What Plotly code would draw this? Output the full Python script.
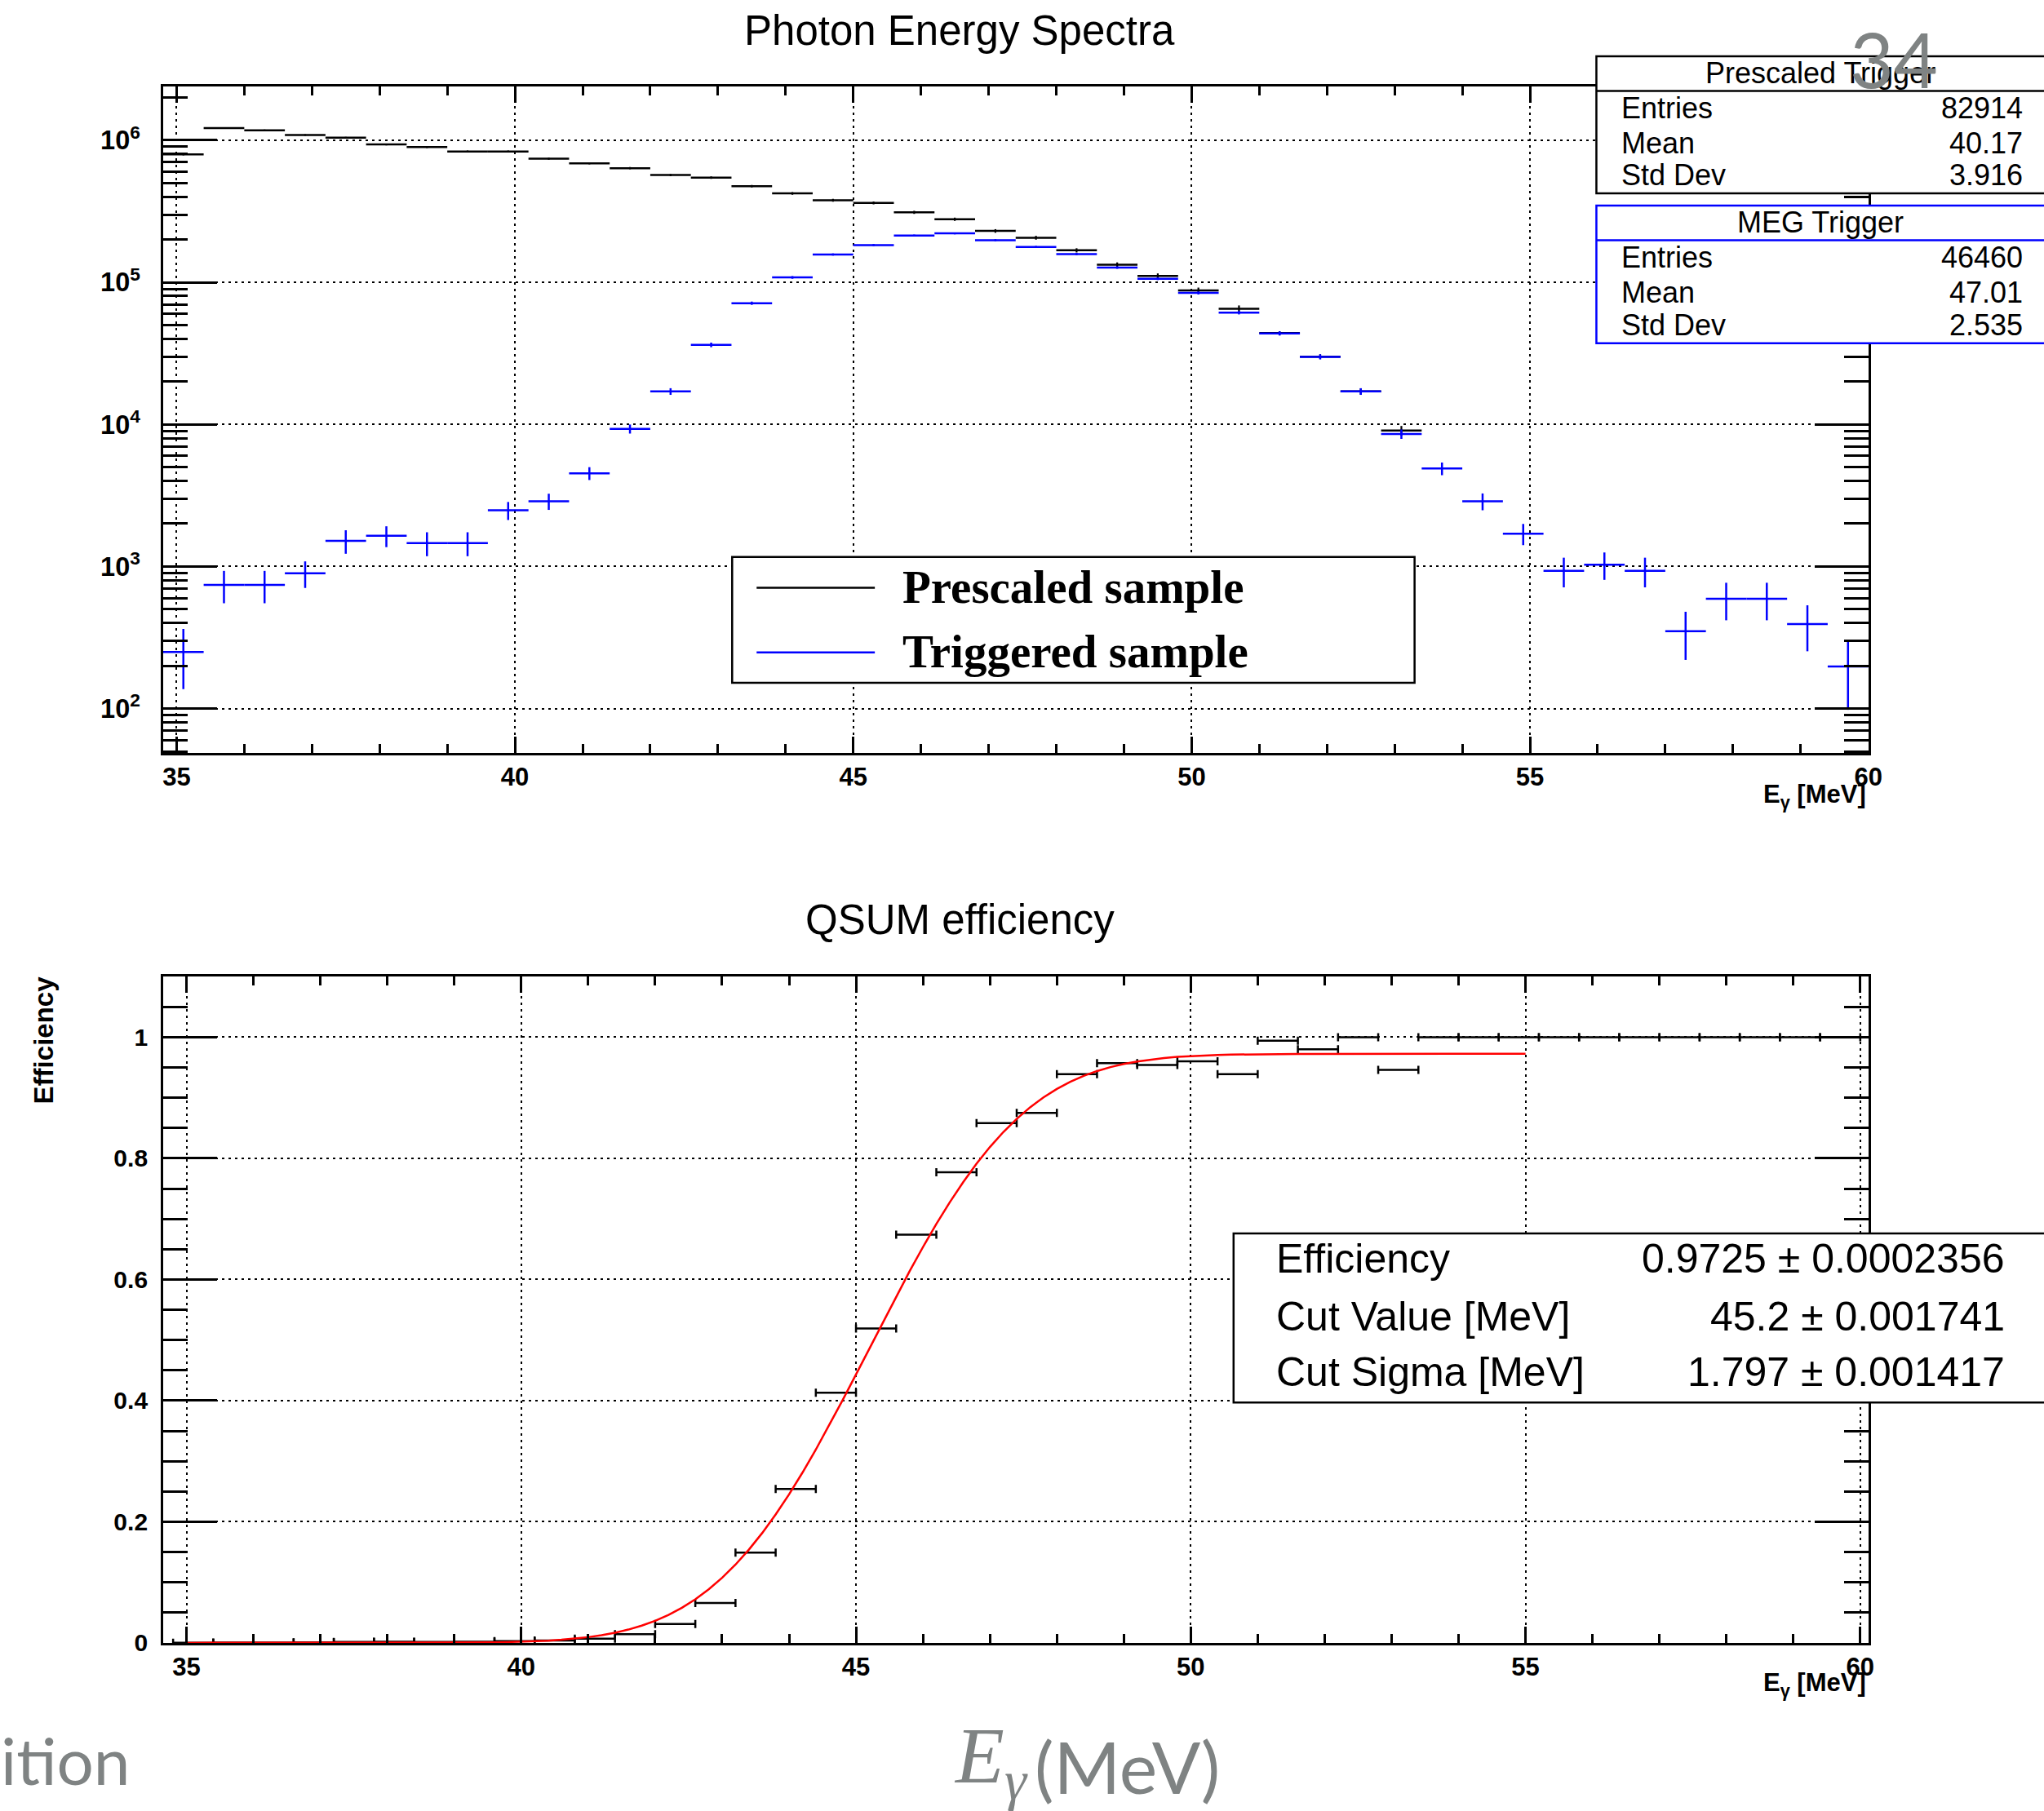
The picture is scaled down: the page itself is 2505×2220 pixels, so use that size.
import math
import plotly.graph_objects as go

# layout coordinates below are given on a 2505 x 2220 canvas
W, H = 2505, 2220
FIG_W, FIG_H = 2521, 2236

# ---- Photon energy spectra: 42 bins of 0.6 MeV between 34.8 and 60 MeV ----
energy = [35.1, 35.7, 36.3, 36.9, 37.5, 38.1, 38.7, 39.3, 39.9, 40.5,
          41.1, 41.7, 42.3, 42.9, 43.5, 44.1, 44.7, 45.3, 45.9, 46.5,
          47.1, 47.7, 48.3, 48.9, 49.5, 50.1, 50.7, 51.3, 51.9, 52.5,
          53.1, 53.7, 54.3, 54.9, 55.5, 56.1, 56.7, 57.3, 57.9, 58.5,
          59.1, 59.7]
bin_width = 0.6

prescaled = [7.96e5, 1.217e6, 1.175e6, 1.088e6, 1.044e6, 9.34e5, 8.95e5, 8.34e5, 8.34e5, 7.42e5,
             6.87e5, 6.36e5, 5.69e5, 5.46e5, 4.75e5, 4.23e5, 3.78e5, 3.62e5, 3.11e5, 2.78e5,
             2.30e5, 2.06e5, 1.68e5, 1.33e5, 1.109e5, 8.77e4, 6.52e4, 4.39e4, 3.0e4, 1.706e4,
             9.05e3, None, None, None, None, None, None, None, None, None,
             None, None]
prescaled_err = [12460, 15400, 15140, 14570, 14270, 13500, 13210, 12750, 12750, 12030,
                 11570, 11140, 10530, 10320, 9620, 9080, 8590, 8400, 7790, 7360,
                 6700, 6340, 5720, 5090, 4650, 4140, 3570, 1400, 1150, 880,
                 700, None, None, None, None, None, None, None, None, None,
                 None, None]

triggered = [250, 741, 741, 896, 1514, 1643, 1461, 1461, 2484, 2877,
             4530, 9300, 17060, 36300, 71300, 108300, 157000, 183000, 213500, 221000,
             198000, 177500, 158000, 127000, 106000, 84200, 61200, 43700, 29900, 17060,
             8560, 4890, 2877, 1703, 933, 1030, 933, 350, 593, 593,
             393, 198]
triggered_err = [113, 190, 190, 190, 285, 275, 280, 280, 360, 375,
                 470, 680, 920, 1340, 1880, 2320, 2790, 3010, 3250, 3310,
                 3130, 2960, 2800, 2510, 2290, 2040, 1740, 1470, 1220, 920,
                 650, 500, 390, 290, 220, 225, 220, 130, 175, 175,
                 140, 100]

# ---- QSUM efficiency per bin ----
efficiency = [0.0003, 0.0006, 0.0006, 0.0008, 0.0015, 0.0018, 0.0016, 0.0018, 0.0030, 0.0039,
              0.0070, 0.0145, 0.031, 0.066, 0.149, 0.254, 0.413, 0.519, 0.674, 0.777,
              0.858, 0.875, 0.939, 0.957, 0.954, 0.960, 0.939, 0.994, 0.980, 1.0,
              0.946, 1.0, 1.0, 1.0, 1.0, 1.0, 1.0, 1.0, 1.0, 1.0,
              1.0, 1.0]

# error-function fit results
fit_plateau, fit_plateau_err = 0.9725, 0.0002356
fit_cut, fit_cut_err = 45.2, 0.001741
fit_sigma, fit_sigma_err = 1.797, 0.001417
fit_range = (35.0, 55.0)
fit_npx = 100

stats_prescaled = {"Entries": "82914", "Mean": "40.17", "Std Dev": "3.916"}
stats_meg = {"Entries": "46460", "Mean": "47.01", "Std Dev": "2.535"}


def px(x):
    return x / W


def py(y):
    return 1 - y / H


fit_x = [fit_range[0] + (fit_range[1] - fit_range[0]) * i / fit_npx for i in range(fit_npx + 1)]
fit_y = [fit_plateau * 0.5 * (1 + math.erf((e - fit_cut) / (math.sqrt(2) * fit_sigma))) for e in fit_x]

fig = go.Figure()

fig.add_trace(go.Scatter(
    x=energy, y=prescaled, mode="markers", xaxis="x", yaxis="y",
    marker=dict(size=1, color="black"),
    error_x=dict(type="constant", value=bin_width / 2, width=0, thickness=2.5, color="black"),
    error_y=dict(type="data", array=prescaled_err, width=0, thickness=2.2, color="black"),
    showlegend=False, hoverinfo="skip"))

fig.add_trace(go.Scatter(
    x=energy, y=triggered, mode="markers", xaxis="x", yaxis="y",
    marker=dict(size=1, color="#0000ff"),
    error_x=dict(type="constant", value=bin_width / 2, width=0, thickness=2.5, color="#0000ff"),
    error_y=dict(type="data", array=triggered_err, width=0, thickness=2.5, color="#0000ff"),
    showlegend=False, hoverinfo="skip"))

fig.add_trace(go.Scatter(
    x=energy, y=efficiency, mode="markers", xaxis="x2", yaxis="y2",
    marker=dict(size=1, color="black"),
    error_x=dict(type="constant", value=bin_width / 2, width=5, thickness=2.5, color="black"),
    showlegend=False, hoverinfo="skip"))

fig.add_trace(go.Scatter(
    x=fit_x, y=fit_y, mode="lines", xaxis="x2", yaxis="y2",
    line=dict(color="#ff0000", width=2.5),
    showlegend=False, hoverinfo="skip"))

label_font_x = dict(family="Liberation Sans, Arial, sans-serif", size=31, color="black", weight="bold")
grid_dash = "3px,5px"

common_axis = dict(
    showline=True, linecolor="black", linewidth=2.5, mirror="allticks",
    ticks="inside", tickcolor="black", tickwidth=2.5,
    showgrid=True, gridcolor="black", gridwidth=2.2, griddash=grid_dash,
    zeroline=False,
)

x_dom = [px(199), px(2290.5)]

fig.update_layout(
    width=FIG_W, height=FIG_H, autosize=False,
    margin=dict(l=0, r=0, t=0, b=0),
    paper_bgcolor="white", plot_bgcolor="white",
    xaxis=dict(domain=x_dom, anchor="y", range=[34.8, 60], tick0=35, dtick=5, ticklen=20,
               minor=dict(dtick=1, ticks="inside", ticklen=11, tickwidth=2.5, tickcolor="black", showgrid=False),
               tickfont=label_font_x, **common_axis),
    yaxis=dict(domain=[py(923.5), py(106.5)], anchor="x", type="log", range=[1.687, 6.376],
               dtick=1, exponentformat="power", showexponent="all", ticklen=66,
               minor=dict(dtick="D1", ticks="inside", ticklen=30, tickwidth=2.5, tickcolor="black", showgrid=False),
               tickfont=dict(family="Liberation Sans, Arial, sans-serif", size=26, color="black", weight="bold"),
               ticklabelstandoff=20, **common_axis),
    xaxis2=dict(domain=x_dom, anchor="y2", range=[34.65, 60.12], tick0=35, dtick=5, ticklen=20,
                minor=dict(dtick=1, ticks="inside", ticklen=11, tickwidth=2.5, tickcolor="black", showgrid=False),
                tickfont=label_font_x, **common_axis),
    yaxis2=dict(domain=[py(2014.8), py(1197.7)], anchor="x2", range=[0, 1.1],
                tick0=0, dtick=0.2, ticklen=66,
                minor=dict(dtick=0.05, ticks="inside", ticklen=30, tickwidth=2.5, tickcolor="black", showgrid=False),
                tickfont=dict(family="Liberation Sans, Arial, sans-serif", size=30, color="black", weight="bold"),
                ticklabelstandoff=10, **common_axis),
)

shapes = []
annotations = []


def text(t, x, y, size, xanchor="center", yanchor="middle", family="Liberation Sans, Arial, sans-serif",
         color="black", weight="normal", angle=0, italic=False):
    annotations.append(dict(
        text=t, x=px(x), y=py(y), xref="paper", yref="paper", xanchor=xanchor, yanchor=yanchor,
        showarrow=False, textangle=angle,
        font=dict(size=size, family=family, color=color, weight=weight, style="italic" if italic else "normal")))


def box(x0, y0, x1, y1, color="black", width=2.5):
    shapes.append(dict(type="rect", xref="paper", yref="paper", x0=px(x0), x1=px(x1), y0=py(y1), y1=py(y0),
                       line=dict(color=color, width=width), fillcolor="white", layer="above"))


def hline(x0, x1, y, color="black", width=2.5):
    shapes.append(dict(type="line", xref="paper", yref="paper", x0=px(x0), x1=px(x1), y0=py(y), y1=py(y),
                       line=dict(color=color, width=width), layer="above"))


# titles
text("Photon Energy Spectra", 1176, 38, 51)
text("QSUM efficiency", 1176, 1128, 51)

# axis titles
text("E<sub>γ</sub> [MeV]", 2290, 976, 31, xanchor="right", weight="bold")
text("E<sub>γ</sub> [MeV]", 2290, 2066, 31, xanchor="right", weight="bold")
text("Efficiency", 52, 1275, 33, weight="bold", angle=-90)

# statistics boxes
box(1957, 69, 2520, 237, "black")
hline(1957, 2520, 111.6, "black")
text("Prescaled Trigger", 2232, 90, 36)
for (k, v), yy in zip(stats_prescaled.items(), [132.6, 175.4, 215]):
    text(k, 1986, yy, 36, xanchor="left")
    text(v, 2482, yy, 36, xanchor="right")

box(1957, 252, 2520, 421, "#0000ff")
hline(1957, 2520, 294.6, "#0000ff")
text("MEG Trigger", 2232, 273, 36)
for (k, v), yy in zip(stats_meg.items(), [315.7, 358.4, 398.6]):
    text(k, 1986, yy, 36, xanchor="left")
    text(v, 2482, yy, 36, xanchor="right")

# legend
box(897, 683, 1734, 837.5, "black")
hline(927, 1072, 720.7, "black")
hline(927, 1072, 800, "#0000ff")
serif = "Liberation Serif, Times New Roman, serif"
text("Prescaled sample", 1104, 720, 57, xanchor="left", family=serif, weight="bold")
text("Triggered sample", 1104, 799, 57, xanchor="left", family=serif, weight="bold")

# fit parameter box
box(1512, 1512.6, 2525, 1720, "black")
fit_rows = [("Efficiency", f"{fit_plateau} ± {fit_plateau_err}", 1544),
            ("Cut Value [MeV]", f"{fit_cut} ± {fit_cut_err}", 1615),
            ("Cut Sigma [MeV]", f"{fit_sigma} ± {fit_sigma_err}", 1683)]
for name, val, yy in fit_rows:
    text(name, 1562, yy, 50, xanchor="left")
    text(val, 2460, yy, 50, xanchor="right")

# slide overlay text
gray = "#7f8383"
text("34", 2322, 72, 93, family="Liberation Sans Narrow, Lato, sans-serif", color=gray)
text("ition", 160, 2158, 80, xanchor="right", family="Lato, Open Sans, sans-serif", color=gray)
text("E<sub>γ</sub>", 1262, 2160, 98, xanchor="right", family=serif, color=gray, italic=True)
text("(MeV)", 1266, 2166, 88, xanchor="left", family="Lato, Open Sans, sans-serif", color=gray)

fig.update_layout(shapes=shapes, annotations=annotations)
fig.write_html("out.html")
